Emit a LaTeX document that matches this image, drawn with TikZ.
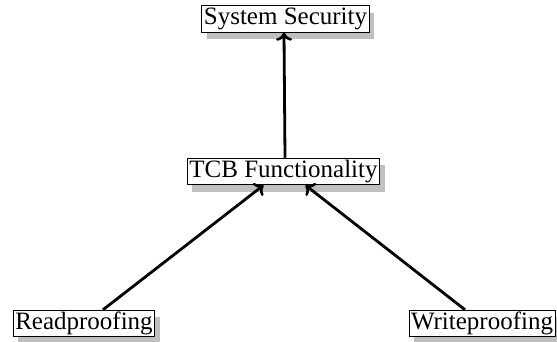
\documentclass[tikz,border=0pt]{standalone}
\usepackage{fontspec}
\setmainfont{Liberation Serif}
\usetikzlibrary{shadows,arrows.meta}
\tikzset{
  box/.style={draw, line width=1pt, fill=white, inner xsep=2pt, inner ysep=2.5pt,
    font=\fontsize{25}{28}\selectfont, text height=16.5pt, text depth=5pt,
    drop shadow={shadow xshift=5pt, shadow yshift=-7pt, fill=black!25, opacity=1}},
  arr/.style={line width=2.8pt, -{To[length=8pt,width=16pt,line width=2.6pt]}}
}
\begin{document}
\begin{tikzpicture}[x=1pt,y=1pt]
\useasboundingbox (0,0) rectangle (557,341);
\node[box] (sec) at (285.5,322) {System Security};
\node[box] (tcb) at (283.5,169.5) {TCB Functionality};
\node[box] (rp) at (84,17.5) {Readproofing};
\node[box] (wp) at (482,17.5) {Writeproofing};
\draw[arr] ([xshift=1.5pt]tcb.north) -- ([xshift=-1.5pt]sec.south);
\draw[arr] ([xshift=19pt]rp.north) -- ([xshift=-20pt]tcb.south);
\draw[arr] ([xshift=-17pt]wp.north) -- ([xshift=22pt]tcb.south);
\end{tikzpicture}
\end{document}
